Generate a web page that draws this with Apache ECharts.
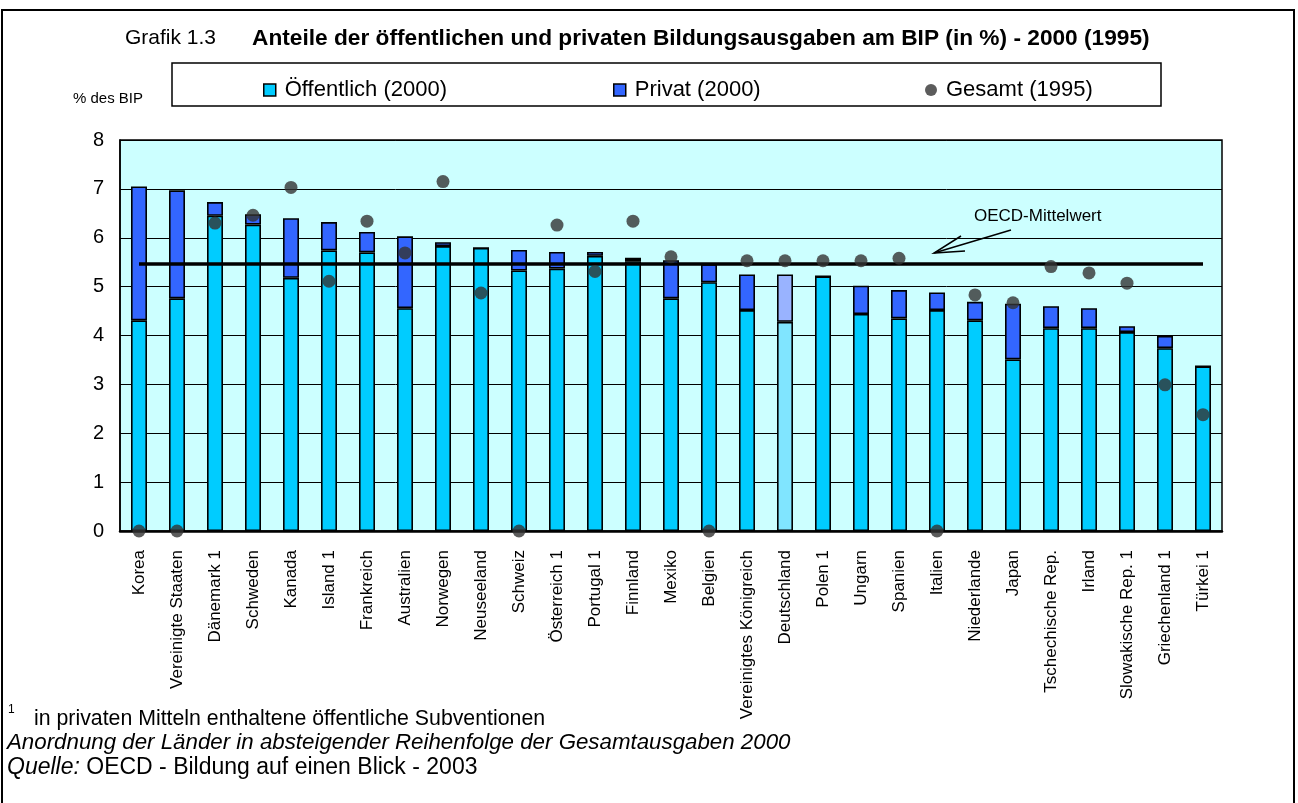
<!DOCTYPE html>
<html><head><meta charset="utf-8">
<script src="https://cdn.jsdelivr.net/npm/echarts@6/dist/echarts.min.js"></script>
<style>html,body{margin:0;padding:0;background:#fff}#c{width:1298px;height:803px}</style>
</head><body><div id="c"></div>
<script>
const categories = ['Korea','Vereinigte Staaten','Dänemark 1','Schweden','Kanada','Island 1','Frankreich','Australien','Norwegen','Neuseeland','Schweiz','Österreich 1','Portugal 1','Finnland','Mexiko','Belgien','Vereinigtes Königreich','Deutschland','Polen 1','Ungarn','Spanien','Italien','Niederlande','Japan','Tschechische Rep.','Irland','Slowakische Rep. 1','Griechenland 1','Türkei 1'];
const publicSpend = [4.31,4.76,6.45,6.27,5.18,5.74,5.70,4.56,5.83,5.79,5.33,5.37,5.63,5.52,4.76,5.09,4.52,4.28,5.21,4.44,4.35,4.52,4.31,3.51,4.15,4.15,4.07,3.74,3.37];
const privateSpend = [2.74,2.21,0.28,0.21,1.22,0.58,0.42,1.47,0.08,0,0.42,0.34,0.08,0.07,0.78,0.37,0.73,0.97,0,0.58,0.58,0.36,0.38,1.14,0.45,0.41,0.12,0.25,0];
const total1995 = [0,0,6.30,6.46,7.03,5.11,6.34,5.69,7.15,4.87,0,6.26,5.31,6.34,5.61,0,5.53,5.53,5.53,5.53,5.58,0,4.83,4.67,5.41,5.28,5.07,2.99,2.38];
const oecdMean = 5.47;
const yTicks = [0,1,2,3,4,5,6,7,8];

const FONT = 'Liberation Sans, Arial, sans-serif';
const hl = 'Deutschland';
const pubData = publicSpend.map((v,i)=> categories[i]===hl ? {value:v,itemStyle:{color:'#80e5ff'}} : v);
const privData = privateSpend.map((v,i)=> categories[i]===hl ? {value:v,itemStyle:{color:'#99b3ff'}} : v);

const legendText = {fontSize:22,fontFamily:FONT,color:'#000',padding:[0,0,0,4]};
const chart = echarts.init(document.getElementById('c'), null, {renderer:'canvas'});
chart.setOption({
  backgroundColor:'#fff',
  animation:false,
  textStyle:{fontFamily:FONT},
  title:{
    left:120, top:22,
    text:'{a|Grafik 1.3}{b|Anteile der öffentlichen und privaten Bildungsausgaben am BIP (in %) - 2000 (1995)}',
    textStyle:{rich:{
      a:{fontSize:21,fontWeight:'normal',fontFamily:FONT,color:'#000'},
      b:{fontSize:22.7,fontWeight:'bold',fontFamily:FONT,color:'#000',padding:[0,0,0,36]}
    }}
  },
  legend:[
    {left:258, top:74, itemWidth:12, itemHeight:12, itemGap:0, textStyle:legendText,
     data:[{name:'Öffentlich (2000)',icon:'rect',itemStyle:{color:'#00ccff',borderColor:'#000',borderWidth:1.5}}], selectedMode:false},
    {left:608, top:74, itemWidth:12, itemHeight:12, itemGap:0, textStyle:legendText,
     data:[{name:'Privat (2000)',icon:'rect',itemStyle:{color:'#3366ff',borderColor:'#000',borderWidth:1.5}}], selectedMode:false},
    {left:920, top:74, itemWidth:12, itemHeight:12, itemGap:0, textStyle:legendText,
     data:[{name:'Gesamt (1995)',icon:'circle',itemStyle:{color:'#333333',borderWidth:0}}], selectedMode:false}
  ],
  grid:{left:120,right:76,top:140,bottom:272,show:true,backgroundColor:'#ccffff',borderColor:'#000',borderWidth:1.5,containLabel:false},
  xAxis:{
    type:'category', data:categories, boundaryGap:true,
    axisLine:{show:true,lineStyle:{color:'#000',width:2.5}},
    axisTick:{show:false},
    axisLabel:{rotate:90,interval:0,fontSize:17,color:'#000',fontFamily:FONT,margin:19}
  },
  yAxis:{
    type:'value', min:0, max:8, interval:1,
    axisLine:{show:true,lineStyle:{color:'#000',width:1.5}},
    axisTick:{show:false},
    axisLabel:{fontSize:20,color:'#000',fontFamily:FONT,margin:16,formatter:(v)=> yTicks.includes(v)? String(v):''},
    splitLine:{show:true,lineStyle:{color:'#000',width:1}}
  },
  series:[
    {name:'Öffentlich (2000)',type:'bar',stack:'t',barWidth:16,data:pubData,
     itemStyle:{color:'#00ccff',borderColor:'#000',borderWidth:1.6},z:2},
    {name:'Privat (2000)',type:'bar',stack:'t',barWidth:16,data:privData,
     itemStyle:{color:'#3366ff',borderColor:'#000',borderWidth:1.6},z:2},
    {name:'Gesamt (1995)',type:'scatter',data:total1995,symbolSize:13,clip:false,
     itemStyle:{color:'#333333'},z:5,
     markLine:{silent:true,symbol:['none','none'],label:{show:false},
       lineStyle:{color:'#000',width:3.5,type:'solid'},
       data:[[{coord:[categories[0],oecdMean]},{coord:[categories[categories.length-1],oecdMean]}]]}}
  ],
  graphic:[
    {type:'rect',shape:{x:2,y:10,width:1292,height:800},style:{fill:'none',stroke:'#000',lineWidth:2},silent:true,z:-1},
    {type:'rect',shape:{x:172,y:63,width:989,height:43},style:{fill:'none',stroke:'#000',lineWidth:1.5},silent:true},
    {type:'text',left:73,top:91,style:{text:'% des BIP',font:'15px '+FONT,fill:'#000'}},
    {type:'text',left:974,top:208,style:{text:'OECD-Mittelwert',font:'17px '+FONT,fill:'#000'},z:10},
    {type:'polyline',shape:{points:[[1011,230],[934,253]]},style:{stroke:'#000',lineWidth:1.5,fill:'none'},z:10},
    {type:'polyline',shape:{points:[[961,236],[934,253],[965,251]]},style:{stroke:'#000',lineWidth:1.5,fill:'none'},z:10},
    {type:'text',left:8,top:704,style:{text:'1',font:'12px '+FONT,fill:'#000'}},
    {type:'text',left:34,top:709,style:{text:'in privaten Mitteln enthaltene öffentliche Subventionen',font:'21.3px '+FONT,fill:'#000'}},
    {type:'text',left:7,top:732,style:{text:'Anordnung der Länder in absteigender Reihenfolge der Gesamtausgaben 2000',font:'italic 22.3px '+FONT,fill:'#000'}},
    {type:'text',left:7,top:756,style:{text:'{i|Quelle:} OECD - Bildung auf einen Blick - 2003',font:'23px '+FONT,fill:'#000',rich:{i:{fontStyle:'italic',fontSize:23,fontFamily:FONT}}}}
  ]
});
</script>
</body></html>
